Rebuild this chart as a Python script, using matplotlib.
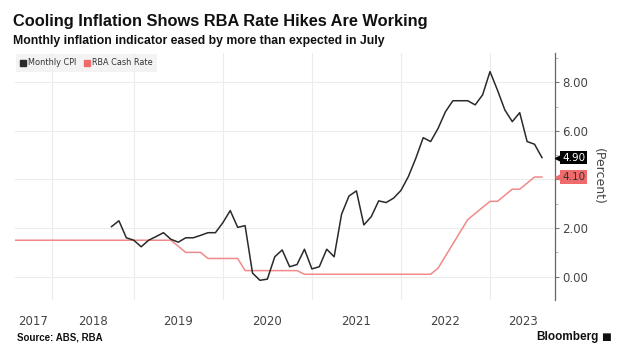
import matplotlib
matplotlib.use("Agg")
import matplotlib.pyplot as plt
import matplotlib.transforms as mtransforms
from matplotlib.lines import Line2D
import numpy as np

# Monthly CPI indicator, annual % change, month-end from Sep 2018
cpi_start = (2018, 9)
cpi = [2.06, 2.30, 1.60, 1.50,
       1.23, 1.50, 1.65, 1.81, 1.54, 1.42, 1.60, 1.60, 1.70, 1.81, 1.81, 2.22,
       2.72, 2.03, 2.10, 0.15, -0.15, -0.10, 0.82, 1.10, 0.41, 0.50, 1.13, 0.32,
       0.41, 1.13, 0.82, 2.57, 3.32, 3.53, 2.13, 2.47, 3.12, 3.05, 3.23, 3.55,
       4.12, 4.87, 5.72, 5.56, 6.10, 6.79, 7.24, 7.24, 7.24, 7.07, 7.48, 8.44,
       7.68, 6.86, 6.38, 6.75, 5.56, 5.45, 4.90]

# RBA cash rate target, month-end from Aug 2017
rate_start = (2017, 8)
rate = [1.50, 1.50, 1.50, 1.50, 1.50,
        1.50, 1.50, 1.50, 1.50, 1.50, 1.50, 1.50, 1.50, 1.50, 1.50, 1.50, 1.50,
        1.50, 1.50, 1.50, 1.50, 1.50, 1.25, 1.00, 1.00, 1.00, 0.75, 0.75, 0.75,
        0.75, 0.75, 0.25, 0.25, 0.25, 0.25, 0.25, 0.25, 0.25, 0.25, 0.10, 0.10,
        0.10, 0.10, 0.10, 0.10, 0.10, 0.10, 0.10, 0.10, 0.10, 0.10, 0.10, 0.10,
        0.10, 0.10, 0.10, 0.10, 0.35, 0.85, 1.35, 1.85, 2.35, 2.60, 2.85, 3.10,
        3.10, 3.35, 3.60, 3.60, 3.85, 4.10, 4.10]

year_edges = [2018.08, 2019.0, 2020.0, 2021.0, 2022.0, 2023.0]
year_labels = ["2017", "2018", "2019", "2020", "2021", "2022", "2023"]
y_ticks = [0, 2, 4, 6, 8]
y_tick_labels = ["0.00", "2.00", "", "6.00", "8.00"]  # 4.00 sits under the tag
y_minor = [1, 3, 5, 7, 9]

CPI_COLOR = "#2a2a2a"
RATE_COLOR = "#f08a8a"
TAG_RED = "#ef6b6b"
TITLE_FONT = "Liberation Sans"


def month_axis(start, n):
    # fractional year at each month end
    y, m = start
    return np.array([y + (m + i) / 12.0 for i in range(n)])


x_cpi = month_axis(cpi_start, len(cpi))
x_rate = month_axis(rate_start, len(rate))

fig = plt.figure(figsize=(6.18, 3.54), dpi=100)
ax = fig.add_axes([0.0243, 0.1525, 0.8738, 0.6975])

ax.plot(x_rate, rate, color=RATE_COLOR, lw=1.1, zorder=3)
ax.plot(x_cpi, cpi, color=CPI_COLOR, lw=1.1, zorder=4)

xmin, xmax = x_rate[0], 2023.73
ax.set_xlim(xmin, xmax)
ax.set_ylim(-0.96, 9.2)

# year boundaries as gridlines, labels centred between them
ax.set_xticks(year_edges)
ax.set_xticklabels([])
edges = [xmin] + year_edges + [xmax]
mids = [(a + b) / 2 for a, b in zip(edges[:-1], edges[1:])]
ax.set_xticks(mids, minor=True)
ax.set_xticklabels(year_labels, minor=True)
ax.tick_params(axis="x", which="both", length=0, labelsize=8.5,
               labelcolor="#444444", pad=11)
ax.grid(axis="x", which="major", color="#ececec", lw=0.8)

ax.yaxis.tick_right()
ax.set_yticks(y_ticks)
ax.set_yticklabels(y_tick_labels)
ax.set_yticks(y_minor, minor=True)
ax.tick_params(axis="y", which="major", length=3, color="#777777",
               labelsize=8.5, labelcolor="#444444", pad=2)
ax.tick_params(axis="y", which="minor", length=2, color="#aaaaaa")
ax.grid(axis="y", which="major", color="#ececec", lw=0.8)
ax.set_axisbelow(True)

for s in ["left", "top", "bottom"]:
    ax.spines[s].set_visible(False)
ax.spines["right"].set_color("#666666")
ax.spines["right"].set_linewidth(0.9)

ax.yaxis.set_label_position("right")
ax.set_ylabel("(Percent)", rotation=-90, fontsize=9, color="#444444", labelpad=12)

# last-value tags: pointer first, box and text on top
trans = mtransforms.blended_transform_factory(ax.transAxes, ax.transData)
for val, face, txt in [(cpi[-1], "black", "white"), (rate[-1], TAG_RED, "#333333")]:
    ax.plot([1.009], [val], marker="<", ms=6.5, color=face, mec=face,
            transform=trans, clip_on=False, zorder=5)
    ax.text(1.013, val, "%.2f" % val, transform=trans, ha="left", va="center",
            fontsize=7.5, color=txt, zorder=7, clip_on=False,
            bbox=dict(boxstyle="square,pad=0.15", fc=face, ec="none"))

handles = [Line2D([], [], ls="none", marker="s", ms=4.5, color=CPI_COLOR),
           Line2D([], [], ls="none", marker="s", ms=4.5, color=TAG_RED)]
leg = ax.legend(handles, ["Monthly CPI", "RBA Cash Rate"], loc="upper left",
                bbox_to_anchor=(0, 1.0), borderaxespad=0.1, ncol=2, fontsize=5.9,
                handlelength=0.6, handletextpad=0.3, columnspacing=1.0,
                frameon=True, fancybox=False, borderpad=0.55)
leg.get_frame().set_facecolor("#f0f0f0")
leg.get_frame().set_edgecolor("none")
for t in leg.get_texts():
    t.set_color("#333333")

fig.text(0.021, 0.938, "Cooling Inflation Shows RBA Rate Hikes Are Working",
         fontsize=11.8, fontweight="bold", family=TITLE_FONT, color="#111111",
         va="center")
fig.text(0.021, 0.884, "Monthly inflation indicator eased by more than expected in July",
         fontsize=8.85, fontweight="bold", family=TITLE_FONT, color="#111111",
         va="center")
fig.text(0.027, 0.048, "Source: ABS, RBA", fontsize=7, fontweight="bold",
         family=TITLE_FONT, color="#111111", va="center")
fig.text(0.968, 0.048, "Bloomberg", fontsize=8.5, fontweight="bold",
         family=TITLE_FONT, color="#111111", va="center", ha="right")
fig.text(0.973, 0.048, "\u25a0", fontsize=7.5, color="#111111", va="center", ha="left")

fig.savefig("out.png", dpi=100)
